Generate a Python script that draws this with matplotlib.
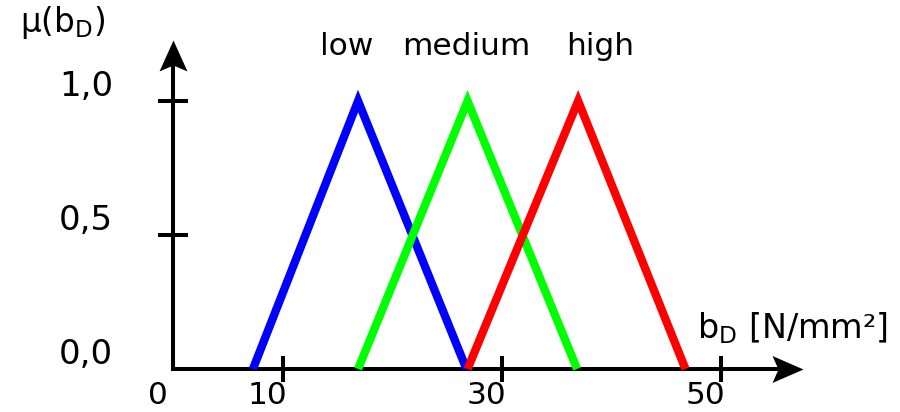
import matplotlib
matplotlib.use("Agg")
import matplotlib.pyplot as plt

plt.rcParams['font.family'] = ['DejaVu Sans']
plt.rcParams['mathtext.default'] = 'regular'

# Fuzzy sets for b_D: (left foot, peak, right foot) in N/mm²
set_names = ["low", "medium", "high"]
set_colors = ["#0000ff", "#00ff00", "#ff0000"]
low_pts = [7.3, 16.9, 26.8]
medium_pts = [16.9, 26.9, 36.9]
high_pts = [26.9, 37.0, 46.8]
membership = [0.0, 1.0, 0.0]

# Axis ticks and labels
x_ticks = [10, 30, 50]
x_tick_labels = ["10", "30", "50"]
y_ticks = [0.5, 1.0]
y_label_values = [1.0, 0.5, 0.0]
y_label_texts = ["1,0", "0,5", "0,0"]
set_label_x = [15.9, 26.8, 39.0]

PX_X = 10.95   # pixels per N/mm²
PX_Y = 268.0   # pixels per unit of membership
X0, Y0 = 173, 369

fig = plt.figure(figsize=(9, 4.12), dpi=100)
ax = fig.add_axes([0, 0, 1, 1])
ax.set_xlim(-X0 / PX_X, (900 - X0) / PX_X)
ax.set_ylim(-(412 - Y0) / PX_Y, Y0 / PX_Y)
ax.axis("off")

x_tip = (803 - X0) / PX_X
y_tip = (Y0 - 40) / PX_Y

# Axes with arrowheads
ax.plot([0, 0, x_tip - 20 / PX_X], [y_tip - 20 / PX_Y, 0, 0], color="black",
        lw=2.9, solid_joinstyle="miter", solid_capstyle="butt", zorder=3)
up_head = [(0, 0), (-14, -31), (0, -25), (14, -31), (0, 0)]
right_head = [(0, 0), (-31, -13.5), (-25, 0), (-31, 13.5), (0, 0)]
ax.plot([0], [y_tip], marker=up_head, ms=44.6, mew=0, color="black", zorder=4)
ax.plot([x_tip], [0], marker=right_head, ms=44.6, mew=0, color="black", zorder=4)

# Tick marks
ax.plot(x_ticks, [0] * len(x_ticks), ls="none", marker="|", ms=18.7, mew=2.9,
        color="black", zorder=3)
ax.plot([0] * len(y_ticks), y_ticks, ls="none", marker="_", ms=21.6, mew=2.9,
        color="black", zorder=3)

# Membership functions
for pts, color in zip([low_pts, medium_pts, high_pts], set_colors):
    ax.plot(pts, membership, color=color, lw=6.0, solid_joinstyle="miter",
            solid_capstyle="butt", zorder=5)

for name, xl in zip(set_names, set_label_x):
    ax.text(xl, (Y0 - 55) / PX_Y, name, ha="center", va="baseline", fontsize=22.5)

# Tick labels
ax.annotate("0", xy=(0, 0), xytext=(-10.8, -25.5), textcoords="offset points",
            ha="center", va="baseline", fontsize=22.5)
for v, t in zip(x_ticks, x_tick_labels):
    ax.annotate(t, xy=(v, 0), xytext=(-10.8, -25.5), textcoords="offset points",
                ha="center", va="baseline", fontsize=22.5)
for v, t in zip(y_label_values, y_label_texts):
    ax.annotate(t, xy=(0, v), xytext=(-43, 3.5), textcoords="offset points",
                ha="right", va="baseline", fontsize=24.5)

# Axis titles
ax.text((20 - X0) / PX_X, (Y0 - 32) / PX_Y, "μ(b$_{D}$)", ha="left",
        va="baseline", fontsize=23.5)
ax.text((697 - X0) / PX_X, (Y0 - 338) / PX_Y, "b$_{D}$ [N/mm²]", ha="left",
        va="baseline", fontsize=24)

fig.savefig("out.png", dpi=100)
